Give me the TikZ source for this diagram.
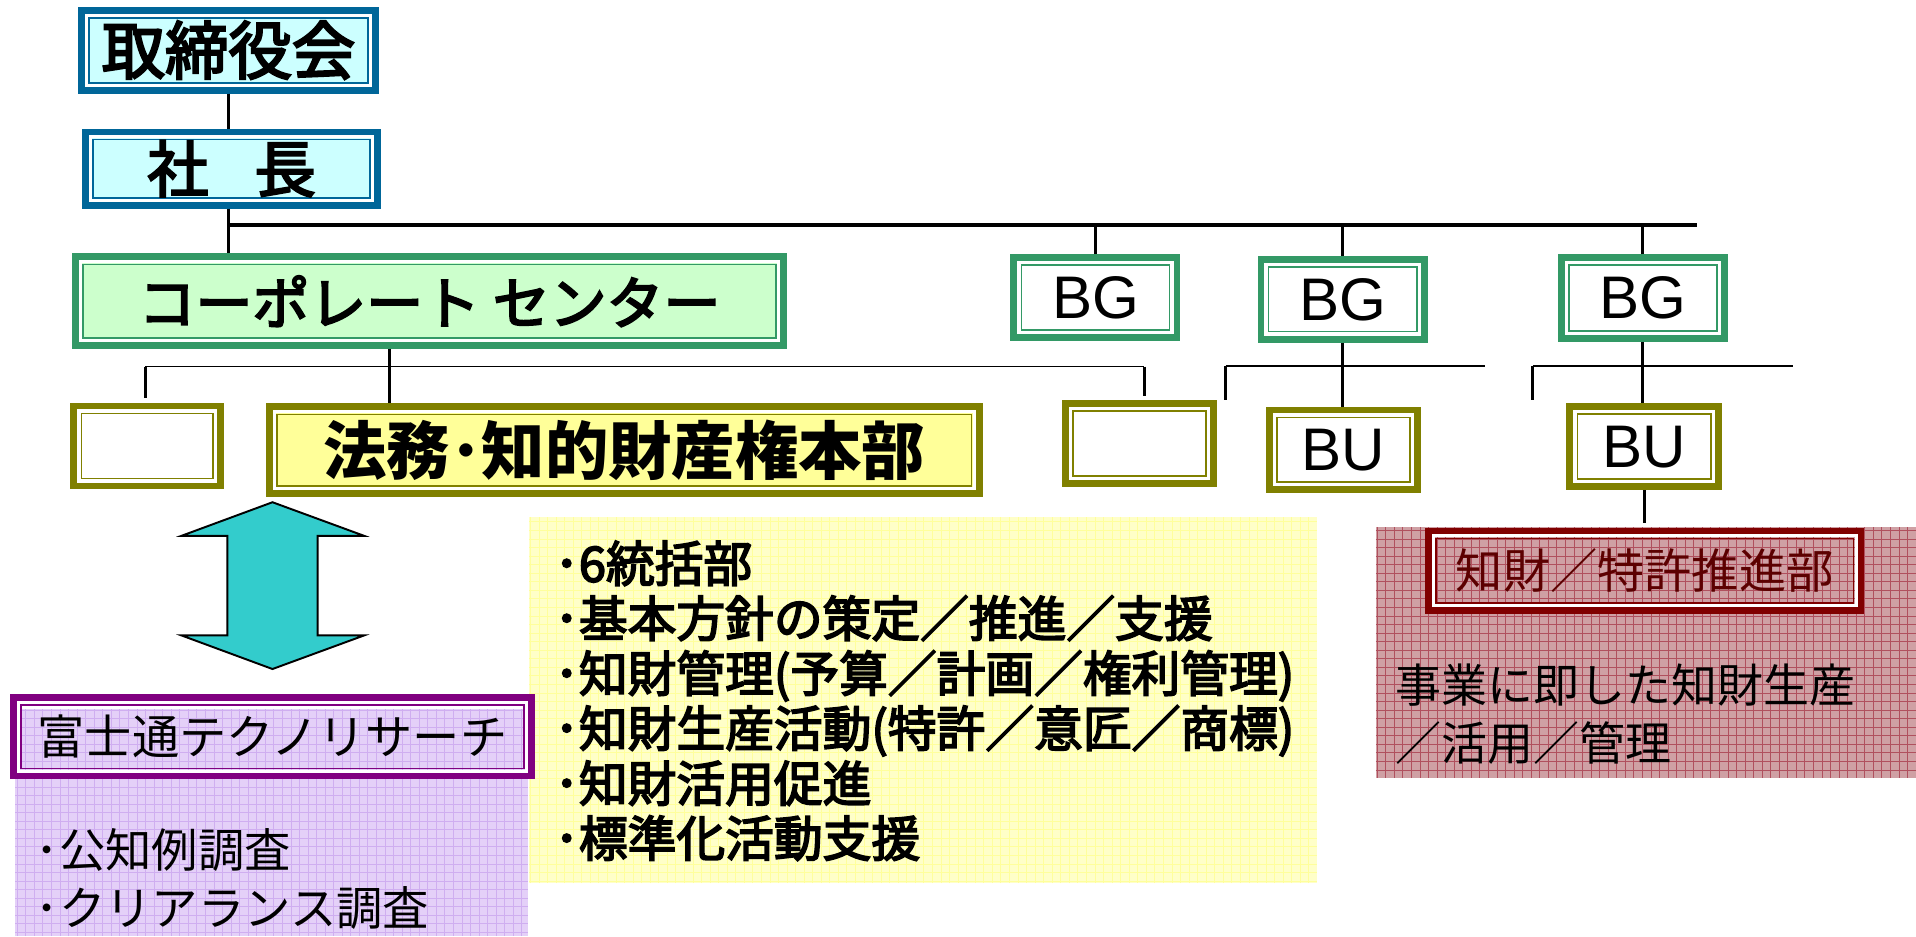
\documentclass[tikz,border=0pt]{standalone}
\usepackage{fontspec}
\setmainfont{Noto Sans CJK JP}
\newfontfamily\medfont[FakeBold=3.5]{Noto Sans CJK JP}
\newfontfamily\bgfont{Liberation Sans}

\definecolor{bluefr}{HTML}{006699}
\definecolor{cyanf}{HTML}{CCFFFF}
\definecolor{greenfr}{HTML}{339966}
\definecolor{greenf}{HTML}{CCFFCC}
\definecolor{olivefr}{HTML}{808000}
\definecolor{yellowf}{HTML}{FFFF99}
\definecolor{purplefr}{HTML}{800080}
\definecolor{redfr}{HTML}{800000}
\definecolor{arrowc}{HTML}{33CCCC}
\definecolor{lav}{HTML}{E4D0F8}
\definecolor{lavln}{HTML}{CFAEF0}
\definecolor{rose}{HTML}{CFA0A4}
\definecolor{roseln}{HTML}{B0505E}
\definecolor{pale}{HTML}{FFFFC8}
\definecolor{paleln}{HTML}{FFFF9C}
\definecolor{textred}{HTML}{5C0000}

\tikzset{
  frame/.style 2 args={draw=#1, fill=#2, line width=3.2pt, inner sep=0pt,
    path picture={
      \draw[white, line width=1.4pt] ([shift={(2.3pt,-2.3pt)}]path picture bounding box.north west) rectangle ([shift={(-2.3pt,2.3pt)}]path picture bounding box.south east);
      \draw[#1, line width=0.85pt] ([shift={(3.5pt,-3.5pt)}]path picture bounding box.north west) rectangle ([shift={(-3.5pt,3.5pt)}]path picture bounding box.south east);
    }},
  link/.style={line width=1.4pt},
  mainbus/.style={line width=1.6pt},
  subbus/.style={line width=0.7pt},
  small/.style={minimum width=2.43cm, minimum height=1.30cm},
  bgtext/.style={font=\bgfont\fontsize{28}{28}\selectfont}
}

\begin{document}
\begin{tikzpicture}
\useasboundingbox (0,0) rectangle (31.36,-15.32);

% backgrounds
\fill[pale] (8.66,-8.46) rectangle (21.55,-14.46);
\draw[paleln, line width=0.3pt, step=0.14] (8.66,-8.46) grid (21.55,-14.46);
\fill[lav] (0.25,-11.6) rectangle (8.65,-15.32);
\draw[lavln, line width=0.3pt, step=0.14] (0.25,-11.6) grid (8.65,-15.32);
\fill[rose] (22.52,-8.62) rectangle (31.36,-12.73);
\draw[roseln, line width=0.3pt, step=0.14] (22.52,-8.62) grid (31.36,-12.73);

\node[frame={bluefr}{cyanf}, minimum width=4.81cm, minimum height=1.31cm, font=\medfont\fontsize{29.5}{30}\selectfont] (bod) at (3.74,-0.82) {取締役会};
\node[frame={bluefr}{cyanf}, minimum width=4.77cm, minimum height=1.20cm, font=\medfont\fontsize{28.5}{29}\selectfont] (pres) at (3.79,-2.76) {社\hspace{0.75em}長};
\node[frame={greenfr}{greenf}, minimum width=11.6cm, minimum height=1.45cm, font=\medfont\fontsize{26.5}{27}\selectfont] (cc) at (7.03,-4.93) {コーポレート センター};
\node[frame={greenfr}{white}, minimum width=2.67cm, minimum height=1.31cm, bgtext] (bg1) at (17.93,-4.87) {BG};
\node[frame={greenfr}{white}, minimum width=2.68cm, minimum height=1.30cm, bgtext] (bg2) at (21.98,-4.90) {BG};
\node[frame={greenfr}{white}, minimum width=2.67cm, minimum height=1.32cm, bgtext] (bg3) at (26.89,-4.88) {BG};

\node[frame={olivefr}{white}, small, minimum width=2.40cm, minimum height=1.31cm] (e1) at (2.41,-7.30) {};
\node[frame={olivefr}{yellowf}, minimum width=11.61cm, minimum height=1.42cm, font=\bfseries\fontsize{29.5}{30}\selectfont] (lip) at (10.22,-7.37) {法務･知的財産権本部};
\node[frame={olivefr}{white}, small] (e2) at (18.65,-7.26) {};
\node[frame={olivefr}{white}, small, bgtext] (bu1) at (21.99,-7.36) {BU};
\node[frame={olivefr}{white}, small, minimum height=1.31cm, bgtext] (bu2) at (26.91,-7.31) {BU};

\node[frame={redfr}{none}, minimum width=7.08cm, minimum height=1.30cm, text=textred, font=\fontsize{22}{22}\selectfont] (pat) at (26.92,-9.34) {知財／特許推進部};
\node[frame={purplefr}{none}, minimum width=8.49cm, minimum height=1.28cm, font=\fontsize{22}{22}\selectfont] (ftr) at (4.46,-12.06) {富士通テクノリサーチ};

% connectors
\coordinate (bus) at (27.78,-3.68);
\draw[link] (bod.south) -- (bod.south |- pres.north);
\draw[link] (bod.south |- pres.south) -- (bod.south |- cc.north);
\draw[mainbus] (bod.south |- bus) -- (bus);
\draw[link] (bg1.north) -- (bg1.north |- bus) (bg2.north) -- (bg2.north |- bus) (bg3.north) -- (bg3.north |- bus);

\coordinate (hq) at (6.38,-6.00);
\coordinate (cl) at (2.38,-6.00);
\coordinate (cr) at (18.73,-6.00);
\draw[link] (cc.south -| hq) -- (lip.north -| hq);
\draw[subbus] (cl) -- (cr);
\draw[link, shorten >=2pt] (cl) -- (cl |- e1.north);
\draw[link, shorten >=2pt] (cr) -- (cr |- e2.north);

\coordinate (gl) at (20.06,-5.99);
\coordinate (gr) at (24.31,-5.99);
\coordinate (gd) at (20.06,-6.55);
\draw[link] (bg2.south) -- (bg2.south |- bu1.north);
\draw[subbus] (gl) -- (gr);
\draw[link] (gl) -- (gd);

\coordinate (hl) at (25.09,-5.99);
\coordinate (hr) at (29.34,-5.99);
\coordinate (hd) at (25.09,-6.55);
\draw[link] (bg3.south) -- (bg3.south |- bu2.north);
\draw[subbus] (hl) -- (hr);
\draw[link] (hl) -- (hd);
\draw[link, shorten >=2pt] (bu2.south) -- (bu2.south |- pat.north);

% double arrow
\draw[fill=arrowc, line width=0.9pt] (4.46,-8.22) -- (5.96,-8.77) -- (5.20,-8.77) -- (5.20,-10.40) -- (5.96,-10.40) -- (4.46,-10.95) -- (2.97,-10.40) -- (3.72,-10.40) -- (3.72,-8.77) -- (2.97,-8.77) -- cycle;

% texts
\node[anchor=west, align=left, inner sep=0pt, font=\medfont\fontsize{22.7}{25.6}\selectfont] (duties) at (9.07,-11.47) {･6統括部\\･基本方針の策定／推進／支援\\･知財管理(予算／計画／権利管理)\\･知財生産活動(特許／意匠／商標)\\･知財活用促進\\･標準化活動支援};
\node[anchor=west, align=left, inner sep=0pt, font=\fontsize{21.4}{27.1}\selectfont] (biz) at (22.84,-11.69) {事業に即した知財生産\\／活用／管理};
\node[anchor=west, align=left, inner sep=0pt, font=\fontsize{21.6}{27.2}\selectfont] (survey) at (0.58,-14.39) {･公知例調査\\･クリアランス調査};
\end{tikzpicture}
\end{document}
